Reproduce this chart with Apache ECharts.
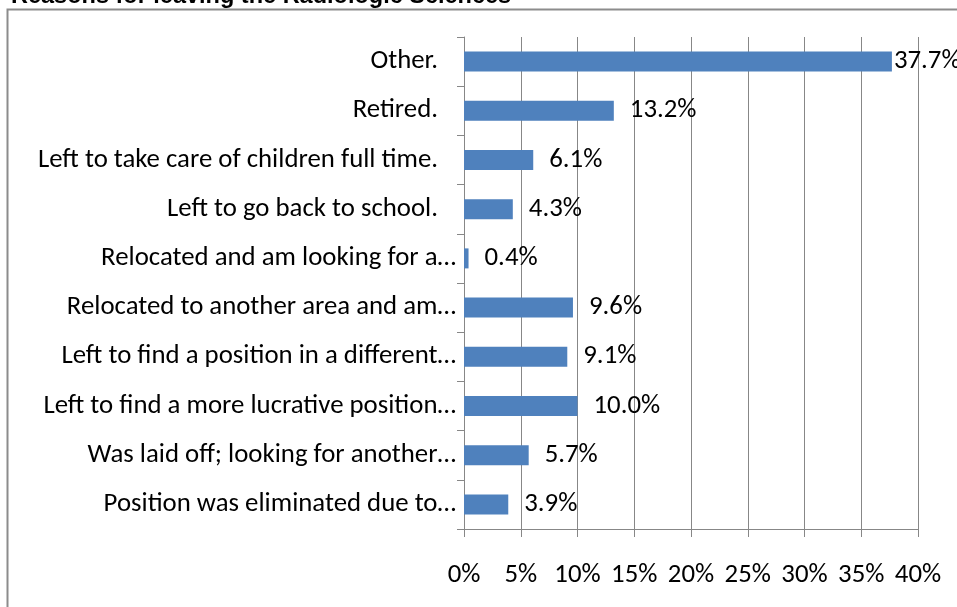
<!DOCTYPE html>
<html><head><meta charset="utf-8">
<script src="https://cdn.jsdelivr.net/npm/echarts@6/dist/echarts.min.js"></script>
<style>html,body{margin:0;padding:0;background:#fff}#chart{width:957px;height:607px}</style>
</head><body><div id="chart"></div>
<script>
var titleText = 'Reasons for leaving the Radiologic Sciences';
var categories = [
  'Other.',
  'Retired.',
  'Left to take care of children full time.',
  'Left to go back to school.',
  'Relocated and am looking for a\u2026',
  'Relocated to another area and am\u2026',
  'Left to find a position in a different\u2026',
  'Left to find a more lucrative position\u2026',
  'Was laid off; looking for another\u2026',
  'Position was eliminated due to\u2026'
];
var values = [37.7, 13.2, 6.1, 4.3, 0.4, 9.6, 9.1, 10.0, 5.7, 3.9];
var xTicks = [0, 5, 10, 15, 20, 25, 30, 35, 40];

var FONT = 'Carlito, Lato, sans-serif';
var FS = 26.8;
var GRAY = '#878787';

var chart = echarts.init(document.getElementById('chart'), null, {renderer: 'canvas'});
var seriesData = values.map(function (v) {
  var item = {value: v};
  if (v > 30) item.label = {distance: 2};
  return item;
});
chart.setOption({
  animation: false,
  title: {
    text: titleText, left: 6, top: -20,
    textStyle: {fontFamily: '"Liberation Sans", Arial, sans-serif', fontWeight: 'bold', fontSize: 23.5, color: '#000'}
  },
  graphic: [{
    type: 'rect', silent: true,
    shape: {x: 7.5, y: 9.5, width: 1200, height: 800},
    style: {fill: null, stroke: '#8c8c8c', lineWidth: 2}
  }],
  grid: {left: 464, right: 39, top: 37, bottom: 78, containLabel: false},
  xAxis: {
    type: 'value', min: xTicks[0], max: xTicks[xTicks.length - 1], interval: 5,
    axisLine: {show: true, lineStyle: {color: GRAY, width: 1}},
    axisTick: {show: true, length: 8, lineStyle: {color: GRAY}},
    splitLine: {show: true, lineStyle: {color: GRAY, width: 1}},
    axisLabel: {margin: 33, fontFamily: FONT, fontSize: FS, color: '#000', formatter: '{value}%'}
  },
  yAxis: {
    type: 'category', data: categories, inverse: true,
    axisLine: {show: true, lineStyle: {color: GRAY, width: 1}},
    axisTick: {show: true, length: 7, lineStyle: {color: GRAY}},
    splitLine: {show: false},
    axisLabel: {
      margin: 8, fontFamily: FONT, fontSize: FS, color: '#000',
      formatter: function (s) {
        return s.charAt(s.length - 1) === '\u2026' ? '{e|' + s + '}' : '{n|' + s + '}';
      },
      rich: {
        e: {fontFamily: FONT, fontSize: FS, color: '#000'},
        n: {fontFamily: FONT, fontSize: FS, color: '#000', padding: [0, 18, 0, 0]}
      }
    }
  },
  series: [{
    type: 'bar', data: seriesData, barWidth: 20,
    itemStyle: {color: '#4F81BD'},
    label: {
      show: true, position: 'right', distance: 16,
      fontFamily: FONT, fontSize: FS, color: '#000',
      formatter: function (p) { return p.value.toFixed(1) + '%'; }
    }
  }]
});
</script></body></html>
